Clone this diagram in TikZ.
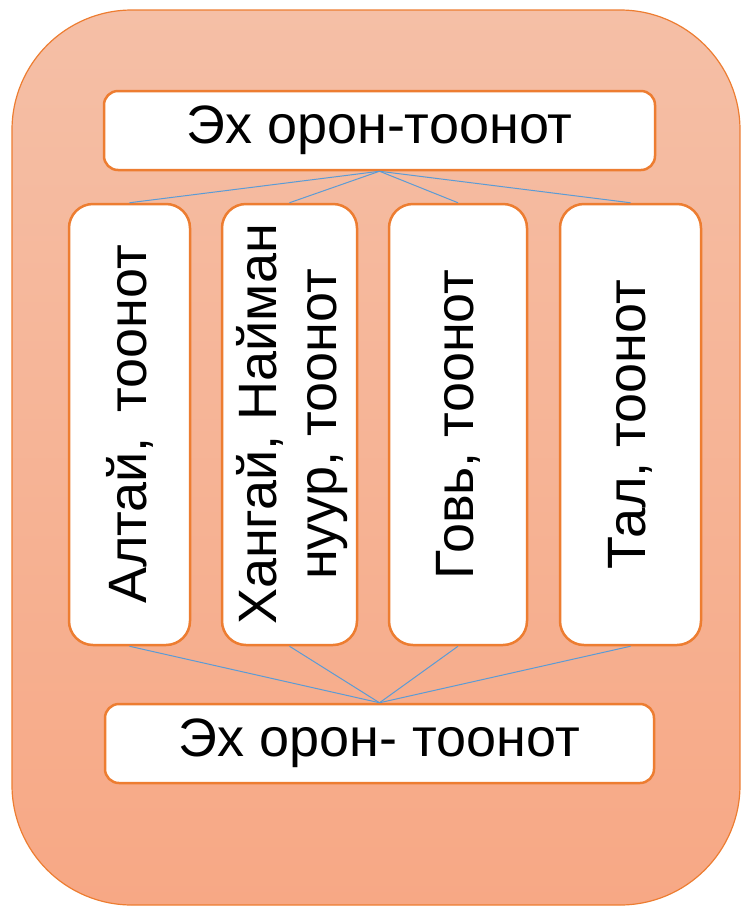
\documentclass[tikz,border=0pt]{standalone}
\usepackage{fontspec}
\usepackage{graphicx}
\setmainfont{Liberation Sans}
\definecolor{frame}{HTML}{ED7D31}
\definecolor{bgtop}{HTML}{F5BFA6}
\definecolor{bgbot}{HTML}{F7A885}
\definecolor{linkc}{HTML}{5B9BD5}
\begin{document}
\begin{tikzpicture}[x=1pt,y=-1pt,
  hbox/.style={draw=frame,line width=2.5pt,fill=white,rounded corners=14pt,inner sep=0pt,
    font=\fontsize{54}{63}\selectfont},
  vbox/.style={hbox,rounded corners=24pt,minimum height=441pt},
  link/.style={draw=linkc,line width=1pt}]
\useasboundingbox (0,0) rectangle (741,906);
\path[draw=frame,line width=1.2pt,top color=bgtop,bottom color=bgbot,rounded corners=120pt]
  (12,10) rectangle (740,905);
\node[hbox,minimum width=551pt,minimum height=79pt] (top) at (379.5,130.5) {Эх орон-тоонот};
\node[vbox,minimum width=121pt] (a) at (129.5,424.5) {\rotatebox{90}{Алтай,\hspace{0.45em}тоонот}};
\node[vbox,minimum width=135pt] (b) at (289.5,424.5)
  {\hspace{8pt}\rotatebox{90}{\begin{tabular}{@{}c@{}}Хангай, Найман\\[-3pt]нуур, тоонот\end{tabular}}};
\node[vbox,minimum width=138pt] (c) at (458,424.5) {\rotatebox{90}{Говь, тоонот}};
\node[vbox,minimum width=141pt] (d) at (630.5,424.5) {\rotatebox{90}{Тал, тоонот}};
\node[hbox,minimum width=549pt,minimum height=79pt] (bot) at (379.5,743.5) {Эх орон- тоонот};
\foreach \n in {a,b,c,d}{
  \draw[link] (top.south) -- (\n.north);
  \draw[link] (\n.south) -- (bot.north);
}
\end{tikzpicture}
\end{document}
